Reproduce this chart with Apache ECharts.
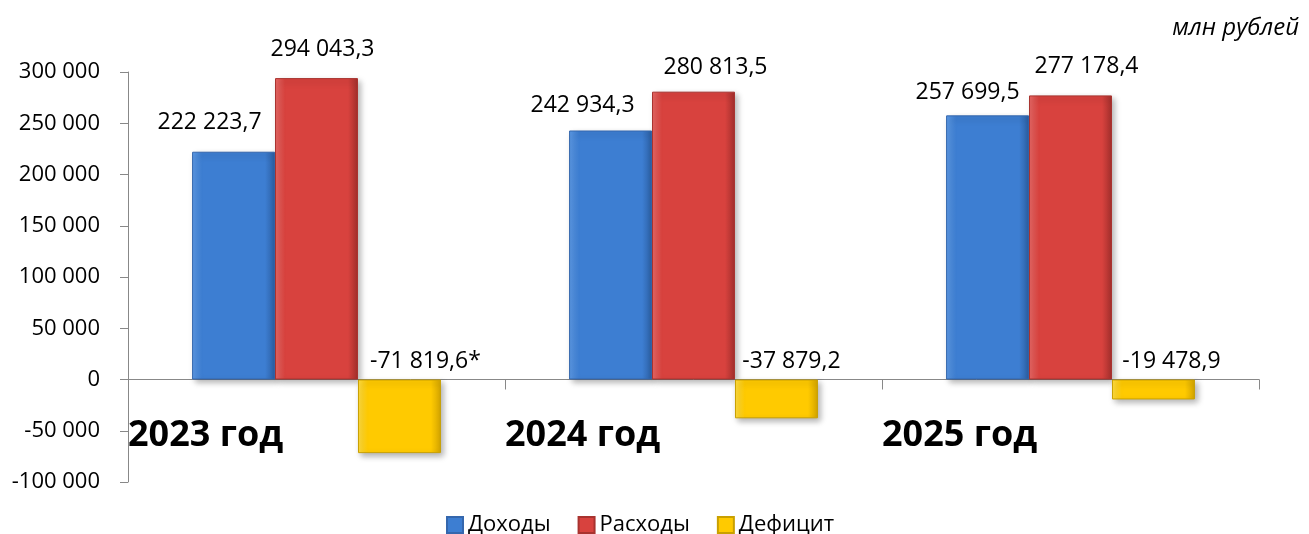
<!DOCTYPE html>
<html>
<head>
<meta charset="utf-8">
<script src="https://cdn.jsdelivr.net/npm/echarts@6/dist/echarts.min.js"></script>
<style>
  html, body { margin: 0; padding: 0; background: #fff; }
  #chart { width: 1309px; height: 534px; }
</style>
</head>
<body>
<div id="chart"></div>
<script>
// бюджет: доходы, расходы, дефицит
const years = ['2023 год', '2024 год', '2025 год'];
const income = [222223.7, 242934.3, 257699.5];
const expense = [294043.3, 280813.5, 277178.4];
const deficit = [-71819.6, -37879.2, -19478.9];
const deficitMarks = ['*', '', ''];
const seriesNames = ['Доходы', 'Расходы', 'Дефицит'];
const unitText = 'млн рублей';

// подписи в оригинале сдвинуты вручную
const incomeShift = [[-24, -13], [-28, -9], [-20, -6]];
const expenseShift = [[6, -12], [22, -8], [16, -12]];
const deficitShift = [[26, -2], [15, -2], [18, -2]];

const FONT = 'Open Sans';

function fmt(v, decimals) {
  const neg = v < 0;
  const s = Math.abs(v).toFixed(decimals);
  const parts = s.split('.');
  const int = parts[0].replace(/\B(?=(\d{3})+(?!\d))/g, ' ');
  return (neg ? '-' : '') + int + (parts[1] ? ',' + parts[1] : '');
}

function grad(c1, c2, c3) {
  return new echarts.graphic.LinearGradient(0, 0, 1, 0, [
    { offset: 0, color: c1 },
    { offset: 0.12, color: c2 },
    { offset: 0.88, color: c2 },
    { offset: 1, color: c3 }
  ]);
}

function makeData(values, shifts, marks) {
  return values.map((v, i) => ({
    value: v,
    label: { offset: shifts[i] },
    mark: marks ? marks[i] : ''
  }));
}

const barStyle = (c, b) => ({
  color: c,
  borderColor: b,
  borderWidth: 1,
  shadowBlur: 6,
  shadowOffsetX: 3,
  shadowOffsetY: 3,
  shadowColor: 'rgba(0,0,0,0.3)'
});

const labelBase = {
  show: true,
  position: 'top',
  distance: 5,
  fontFamily: FONT,
  fontSize: 23,
  color: '#000'
};

const myChart = echarts.init(document.getElementById('chart'));
myChart.setOption({
  animation: false,
  textStyle: { fontFamily: FONT },
  title: {
    text: unitText,
    right: 5,
    top: 11,
    textStyle: { fontFamily: FONT, fontSize: 24, fontStyle: 'italic', fontWeight: 'normal', color: '#000' }
  },
  legend: {
    data: seriesNames,
    left: 441,
    top: 509,
    icon: 'rect',
    itemWidth: 16,
    itemHeight: 16,
    itemGap: 27,
    textStyle: { fontFamily: FONT, fontSize: 22, color: '#000' }
  },
  grid: { left: 128, right: 50, top: 72, bottom: 52, outerBoundsMode: 'none' },
  xAxis: {
    type: 'category',
    data: years,
    axisLine: { onZero: true, lineStyle: { color: '#888', width: 1 } },
    axisTick: { show: true, length: 10, lineStyle: { color: '#888' } },
    axisLabel: {
      interval: 0,
      margin: -64,
      formatter: (v) => '{y|' + v + '}',
      rich: {
        y: { width: 377, align: 'left', fontFamily: FONT, fontSize: 36, fontWeight: 'bold', color: '#000' }
      }
    }
  },
  yAxis: {
    type: 'value',
    min: -100000,
    max: 300000,
    interval: 50000,
    splitLine: { show: false },
    axisLine: { show: true, lineStyle: { color: '#888' } },
    axisTick: { show: true, length: 8, lineStyle: { color: '#888' } },
    axisLabel: {
      margin: 28,
      fontFamily: FONT,
      fontSize: 22,
      color: '#000',
      formatter: (v) => fmt(v, 0)
    }
  },
  series: [
    {
      name: seriesNames[0],
      type: 'bar',
      barWidth: '22%',
      barGap: '0%',
      itemStyle: barStyle(grad('#5c9ae6', '#3d7ed2', '#2c5fa3'), '#3567ad'),
      label: Object.assign({}, labelBase, { formatter: (p) => fmt(p.value, 1) }),
      data: makeData(income, incomeShift)
    },
    {
      name: seriesNames[1],
      type: 'bar',
      barWidth: '22%',
      barGap: '0%',
      itemStyle: barStyle(grad('#e86966', '#d8423e', '#a22f2c'), '#a8332f'),
      label: Object.assign({}, labelBase, { formatter: (p) => fmt(p.value, 1) }),
      data: makeData(expense, expenseShift)
    },
    {
      name: seriesNames[2],
      type: 'bar',
      barWidth: '22%',
      barGap: '0%',
      itemStyle: barStyle(grad('#ffdc40', '#ffca00', '#d4a500'), '#c9a000'),
      label: Object.assign({}, labelBase, { formatter: (p) => fmt(p.value, 1) + p.data.mark }),
      data: makeData(deficit, deficitShift, deficitMarks)
    }
  ]
});
</script>
</body>
</html>
